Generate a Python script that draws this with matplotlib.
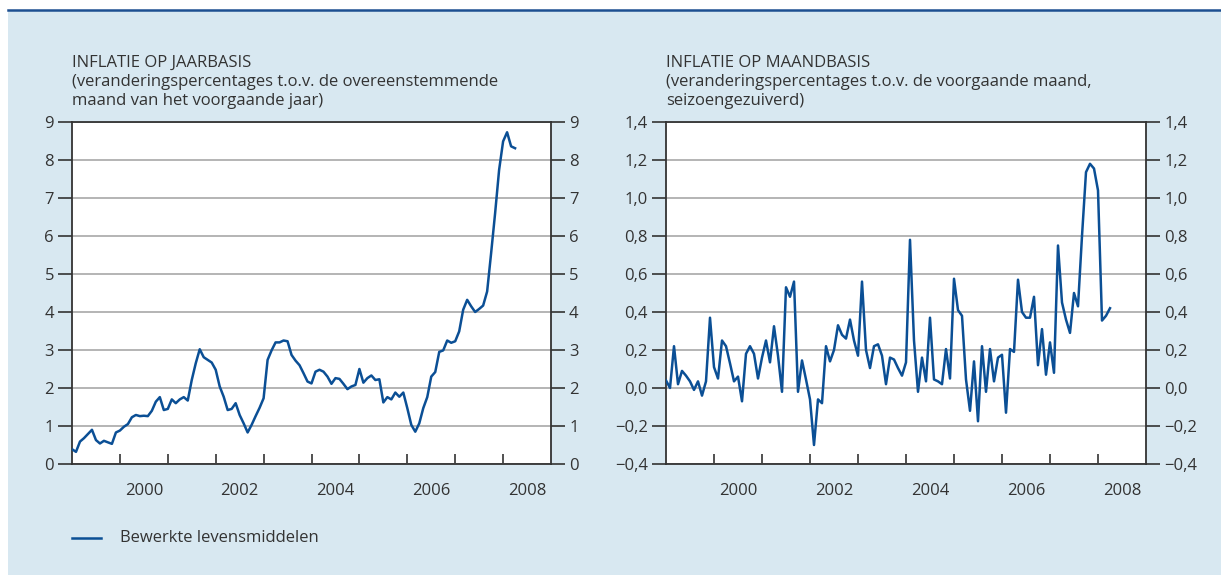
import numpy as np
import matplotlib
matplotlib.use("Agg")
import matplotlib.pyplot as plt
from matplotlib.patches import Rectangle
from matplotlib.lines import Line2D

plt.rcParams['font.family'] = ['Open Sans', 'DejaVu Sans']

# monthly data, jan 1999 - apr 2008
jaar = [0.39, 0.32, 0.59, 0.68, 0.79, 0.90, 0.63, 0.54, 0.61, 0.57, 0.53, 0.83,
        0.88, 0.98, 1.05, 1.23, 1.29, 1.26, 1.27, 1.26, 1.40, 1.64, 1.76, 1.42,
        1.45, 1.70, 1.60, 1.70, 1.76, 1.67, 2.21, 2.65, 3.02, 2.81, 2.74, 2.67,
        2.48, 2.04, 1.77, 1.42, 1.45, 1.60, 1.29, 1.07, 0.83, 1.03, 1.26, 1.48,
        1.73, 2.74, 2.99, 3.20, 3.20, 3.25, 3.23, 2.87, 2.72, 2.60, 2.39, 2.17,
        2.12, 2.43, 2.48, 2.43, 2.30, 2.11, 2.26, 2.24, 2.11, 1.97, 2.04, 2.08,
        2.50, 2.14, 2.26, 2.33, 2.21, 2.23, 1.62, 1.76, 1.70, 1.88, 1.77, 1.88,
        1.47, 1.03, 0.85, 1.07, 1.47, 1.76, 2.30, 2.42, 2.95, 2.99, 3.25, 3.19,
        3.23, 3.49, 4.06, 4.32, 4.15, 4.00, 4.08, 4.17, 4.54, 5.55, 6.60, 7.74,
        8.49, 8.73, 8.36, 8.31]

maand = [0.04, 0.00, 0.22, 0.02, 0.09, 0.065, 0.035, -0.01, 0.035, -0.04, 0.035, 0.37,
         0.11, 0.05, 0.25, 0.22, 0.13, 0.035, 0.06, -0.07, 0.18, 0.22, 0.18, 0.05,
         0.16, 0.25, 0.135, 0.325, 0.17, -0.02, 0.53, 0.48, 0.56, -0.02, 0.145, 0.045,
         -0.06, -0.30, -0.06, -0.08, 0.22, 0.14, 0.20, 0.33, 0.28, 0.26, 0.36, 0.25,
         0.17, 0.56, 0.20, 0.105, 0.22, 0.23, 0.17, 0.02, 0.16, 0.15, 0.105, 0.065,
         0.135, 0.78, 0.25, -0.02, 0.16, 0.035, 0.37, 0.045, 0.035, 0.02, 0.205, 0.05,
         0.575, 0.41, 0.38, 0.045, -0.12, 0.14, -0.175, 0.22, -0.02, 0.205, 0.035, 0.16,
         0.175, -0.13, 0.205, 0.19, 0.57, 0.40, 0.37, 0.37, 0.48, 0.12, 0.31, 0.07,
         0.24, 0.08, 0.75, 0.45, 0.36, 0.29, 0.50, 0.43, 0.80, 1.136, 1.18, 1.155,
         1.04, 0.355, 0.38, 0.42]

years = 1999 + np.arange(len(jaar)) / 12.0
year_labels = ['2000', '2002', '2004', '2006', '2008']

titles = [["INFLATIE OP JAARBASIS",
           "(veranderingspercentages t.o.v. de overeenstemmende",
           "maand van het voorgaande jaar)"],
          ["INFLATIE OP MAANDBASIS",
           "(veranderingspercentages t.o.v. de voorgaande maand,",
           "seizoengezuiverd)"]]
legend_label = "Bewerkte levensmiddelen"

BG = '#d8e8f1'
LINE = '#0b4f95'
TXT = '#333333'
GRID = '#b4b4b4'

W, H = 1221, 575
fig = plt.figure(figsize=(W / 100, H / 100), dpi=100)
fig.patch.set_facecolor('white')

# blue panel background and top rule
fig.add_artist(Rectangle((8 / W, 0), 1 - 8 / W, (H - 11) / H, transform=fig.transFigure,
                         facecolor=BG, edgecolor='none', zorder=-10))
fig.add_artist(Line2D([8 / W, 1], [1 - 10 / H, 1 - 10 / H], color='#1d4f91', lw=1.8))


def fmt_comma(v):
    s = f"{v:.1f}".replace('.', ',')
    return s.replace('-', '\u2212')


def setup(ax, yticks, ylabels):
    ax.set_facecolor('white')
    ax.set_xlim(1999, 2009)
    ax.set_ylim(yticks[0], yticks[-1])
    ax.set_yticks(yticks)
    ax.set_yticklabels(ylabels)
    ax.yaxis.grid(True, color=GRID, lw=1.4)
    ax.set_axisbelow(True)
    ax.set_xticks(np.arange(2000, 2009))
    ax.set_xticklabels([])
    ax.set_xticks([2000.5, 2002.5, 2004.5, 2006.5, 2008.5], minor=True)
    ax.set_xticklabels(year_labels, minor=True)
    ax.tick_params(axis='x', which='major', direction='in', length=7, width=1.2, color='#333333')
    ax.tick_params(axis='x', which='minor', length=0, pad=14, labelsize=12, labelcolor=TXT)
    ax.tick_params(axis='y', direction='out', length=10, width=1.2, color='#333333',
                   left=True, right=True, labelleft=True, labelright=True,
                   labelsize=12, labelcolor=TXT, pad=3)
    for sp in ax.spines.values():
        sp.set_color('#333333')
        sp.set_linewidth(1.3)


ax1 = fig.add_axes([72 / W, 1 - 464 / H, 479 / W, 342 / H])
ax1.plot(years, jaar, color=LINE, lw=1.8, zorder=3)
setup(ax1, np.arange(0, 10), [str(v) for v in range(10)])

ax2 = fig.add_axes([666 / W, 1 - 464 / H, 480 / W, 342 / H])
ax2.plot(years, maand, color=LINE, lw=1.8, zorder=3)
t2 = np.round(np.arange(-0.4, 1.41, 0.2), 1)
setup(ax2, t2, [fmt_comma(v) for v in t2])

for x0, lines in zip([72, 666], titles):
    for k, s in enumerate(lines):
        fig.text(x0 / W, 1 - (67 + 19 * k) / H, s, fontsize=12, color=TXT,
                 ha='left', va='baseline')

# legend
fig.add_artist(Line2D([72 / W, 101 / W], [1 - 538 / H, 1 - 538 / H], color=LINE, lw=1.8))
fig.text(120 / W, 1 - 538 / H, legend_label, fontsize=12, color=TXT, ha='left', va='center')

fig.savefig('out.png', dpi=100, facecolor=fig.get_facecolor())
